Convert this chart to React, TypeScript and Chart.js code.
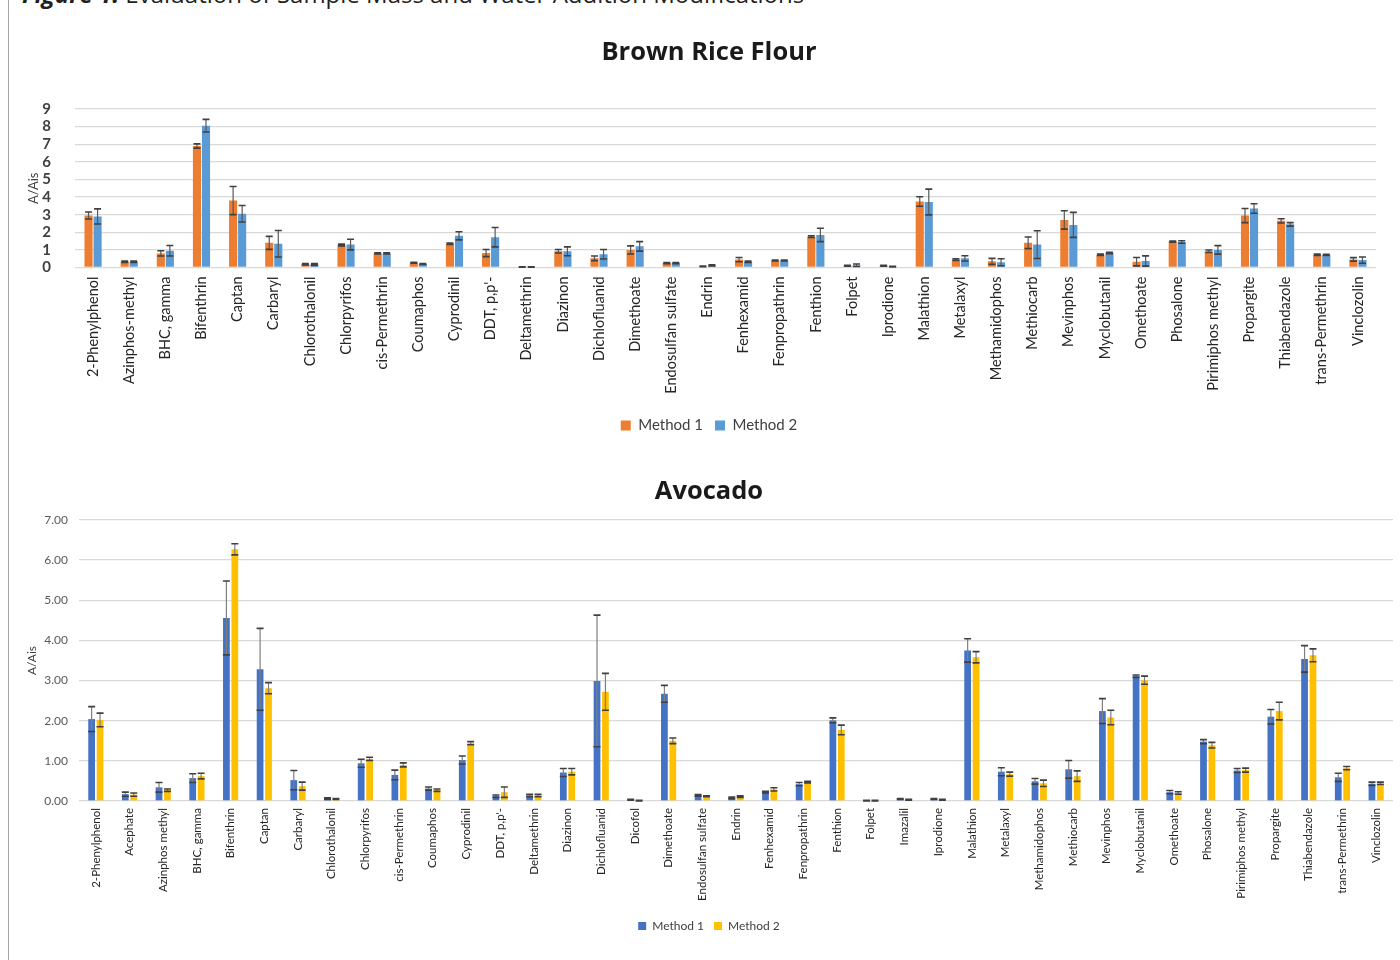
import React, { useEffect, useRef } from "react";
import { Chart, registerables } from "chart.js";

Chart.register(...registerables);

// ---------------- Brown Rice Flour ----------------
const riceCategories = [
  "2-Phenylphenol", "Azinphos-methyl", "BHC, gamma", "Bifenthrin", "Captan", "Carbaryl",
  "Chlorothalonil", "Chlorpyrifos", "cis-Permethrin", "Coumaphos", "Cyprodinil", "DDT, p,p'-",
  "Deltamethrin", "Diazinon", "Dichlofluanid", "Dimethoate", "Endosulfan sulfate", "Endrin",
  "Fenhexamid", "Fenpropathrin", "Fenthion", "Folpet", "Iprodione", "Malathion",
  "Metalaxyl", "Methamidophos", "Methiocarb", "Mevinphos", "Myclobutanil", "Omethoate",
  "Phosalone", "Pirimiphos methyl", "Propargite", "Thiabendazole", "trans-Permethrin", "Vinclozolin",
];
const riceMethod1 = [
  2.95, 0.33, 0.8, 6.9, 3.8, 1.4, 0.19, 1.28, 0.8, 0.27, 1.35, 0.82,
  0.03, 0.92, 0.52, 1.0, 0.25, 0.06, 0.45, 0.4, 1.75, 0.1, 0.1, 3.75,
  0.45, 0.35, 1.4, 2.7, 0.72, 0.33, 1.47, 0.92, 2.95, 2.65, 0.72, 0.46,
];
const riceMethod1Err = [
  0.2, 0.04, 0.15, 0.12, 0.8, 0.37, 0.04, 0.05, 0.03, 0.03, 0.04, 0.2,
  0.01, 0.1, 0.13, 0.23, 0.03, 0.02, 0.12, 0.03, 0.05, 0.03, 0.03, 0.27,
  0.05, 0.17, 0.33, 0.52, 0.04, 0.24, 0.03, 0.07, 0.4, 0.12, 0.04, 0.1,
];
const riceMethod2 = [
  2.9, 0.33, 0.95, 8.05, 3.05, 1.35, 0.17, 1.3, 0.8, 0.2, 1.8, 1.72,
  0.03, 0.92, 0.75, 1.2, 0.25, 0.12, 0.32, 0.4, 1.85, 0.13, 0.05, 3.72,
  0.52, 0.3, 1.3, 2.42, 0.82, 0.37, 1.45, 1.0, 3.35, 2.45, 0.72, 0.42,
];
const riceMethod2Err = [
  0.43, 0.04, 0.3, 0.36, 0.47, 0.75, 0.05, 0.3, 0.03, 0.03, 0.23, 0.55,
  0.01, 0.25, 0.27, 0.27, 0.03, 0.03, 0.04, 0.03, 0.38, 0.07, 0.02, 0.73,
  0.15, 0.2, 0.79, 0.71, 0.04, 0.29, 0.07, 0.24, 0.27, 0.1, 0.03, 0.18,
];

// ---------------- Avocado ----------------
const avoCategories = [
  "2-Phenylphenol", "Acephate", "Azinphos methyl", "BHC, gamma", "Bifenthrin", "Captan",
  "Carbaryl", "Chlorothalonil", "Chlorpyrifos", "cis-Permethrin", "Coumaphos", "Cyprodinil",
  "DDT, p,p'-", "Deltamethrin", "Diazinon", "Dichlofluanid", "Dicofol", "Dimethoate",
  "Endosulfan sulfate", "Endrin", "Fenhexamid", "Fenpropathrin", "Fenthion", "Folpet",
  "Imazalil", "Iprodione", "Malathion", "Metalaxyl", "Methamidophos", "Methiocarb",
  "Mevinphos", "Myclobutanil", "Omethoate", "Phosalone", "Pirimiphos methyl", "Propargite",
  "Thiabendazole", "trans-Permethrin", "Vinclozolin",
];
const avoMethod1 = [
  2.04, 0.17, 0.34, 0.57, 4.56, 3.28, 0.52, 0.06, 0.94, 0.65, 0.31, 1.02,
  0.12, 0.14, 0.71, 2.99, 0.03, 2.67, 0.14, 0.08, 0.22, 0.42, 2.01, 0.01,
  0.05, 0.05, 3.75, 0.73, 0.49, 0.79, 2.24, 3.11, 0.22, 1.48, 0.76, 2.1,
  3.54, 0.59, 0.43,
];
const avoMethod1Err = [
  0.31, 0.05, 0.12, 0.11, 0.92, 1.02, 0.24, 0.02, 0.1, 0.12, 0.04, 0.1,
  0.03, 0.03, 0.1, 1.64, 0.01, 0.21, 0.02, 0.02, 0.02, 0.04, 0.06, 0.01,
  0.01, 0.01, 0.29, 0.1, 0.07, 0.22, 0.31, 0.03, 0.04, 0.05, 0.05, 0.18,
  0.33, 0.1, 0.04,
];
const avoMethod2 = [
  2.02, 0.16, 0.27, 0.62, 6.27, 2.81, 0.37, 0.05, 1.05, 0.9, 0.27, 1.44,
  0.22, 0.14, 0.73, 2.72, 0.01, 1.5, 0.12, 0.11, 0.29, 0.47, 1.77, 0.01,
  0.03, 0.03, 3.58, 0.67, 0.44, 0.62, 2.08, 3.01, 0.2, 1.39, 0.77, 2.24,
  3.63, 0.82, 0.44,
];
const avoMethod2Err = [
  0.17, 0.04, 0.03, 0.07, 0.14, 0.14, 0.1, 0.01, 0.04, 0.05, 0.03, 0.04,
  0.13, 0.03, 0.08, 0.46, 0.01, 0.07, 0.01, 0.02, 0.04, 0.02, 0.12, 0.01,
  0.01, 0.01, 0.14, 0.05, 0.08, 0.13, 0.18, 0.1, 0.03, 0.07, 0.05, 0.22,
  0.16, 0.04, 0.03,
];

const seriesNames = ["Method 1", "Method 2"];
const figureCaptionBold = "Figure 1.";
const figureCaptionRest = " Evaluation of Sample Mass and Water Addition Modifications";

const FONT = "Lato, 'Open Sans', sans-serif";
const TITLE_FONT = "'Open Sans', sans-serif";

const errorBarPlugin = {
  id: "errorBars",
  afterDatasetsDraw(chart: any, _args: any, opts: any) {
    const ctx = chart.ctx;
    const yScale = chart.scales.y;
    ctx.save();
    chart.data.datasets.forEach((ds: any, i: number) => {
      const meta = chart.getDatasetMeta(i);
      const errs = opts.errors[i];
      meta.data.forEach((bar: any, j: number) => {
        const v = ds.data[j];
        const e = errs[j];
        const x = bar.x;
        const yt = yScale.getPixelForValue(v + e);
        const yb = yScale.getPixelForValue(Math.max(0, v - e));
        ctx.strokeStyle = opts.color;
        ctx.lineWidth = opts.width;
        ctx.beginPath();
        ctx.moveTo(x, yt);
        ctx.lineTo(x, yb);
        ctx.stroke();
        ctx.strokeStyle = opts.capColor;
        ctx.lineWidth = opts.capWidth;
        ctx.beginPath();
        ctx.moveTo(x - opts.cap, yt);
        ctx.lineTo(x + opts.cap, yt);
        ctx.moveTo(x - opts.cap, yb);
        ctx.lineTo(x + opts.cap, yb);
        ctx.stroke();
      });
    });
    ctx.restore();
  },
};

function ChartCanvas({ config, top, width, height }: any) {
  const ref = useRef<HTMLCanvasElement>(null);
  useEffect(() => {
    if (!ref.current) return;
    const chart = new Chart(ref.current, config);
    return () => chart.destroy();
  }, []);
  return (
    <canvas
      ref={ref}
      width={width}
      height={height}
      style={{ position: "absolute", left: 0, top, width, height }}
    />
  );
}

function makeConfig(p: any) {
  return {
    type: "bar",
    data: {
      labels: p.labels,
      datasets: [
        { label: seriesNames[0], data: p.m1, backgroundColor: p.colors[0], barPercentage: p.barPct, categoryPercentage: p.catPct },
        { label: seriesNames[1], data: p.m2, backgroundColor: p.colors[1], barPercentage: p.barPct, categoryPercentage: p.catPct },
      ],
    },
    plugins: [errorBarPlugin],
    options: {
      responsive: false,
      animation: false,
      layout: { padding: { left: 18, right: 0, top: 0, bottom: 0 } },
      plugins: {
        title: {
          display: true,
          text: p.title,
          font: { family: TITLE_FONT, size: 25.5, weight: "bold" },
          color: "#1a1a1a",
          padding: { top: p.titleTop, bottom: p.titleBottom },
        },
        legend: {
          display: true,
          position: "bottom",
          labels: {
            boxWidth: p.legendBox,
            boxHeight: p.legendBox,
            padding: p.legendPad,
            font: { family: FONT, size: p.legendFont },
            color: "#404040",
          },
        },
        tooltip: { enabled: false },
        errorBars: {
          errors: [p.e1, p.e2],
          color: p.errColor,
          capColor: p.capColor,
          width: 1.2,
          capWidth: 1.6,
          cap: 3.5,
        },
      },
      scales: {
        x: {
          grid: { display: false, drawTicks: false },
          border: { display: false },
          ticks: {
            autoSkip: false,
            minRotation: 90,
            maxRotation: 90,
            padding: p.xPad,
            font: { family: FONT, size: p.xFont },
            color: "#262626",
          },
          afterFit: (s: any) => { s.height = p.xHeight; },
        },
        y: {
          min: 0,
          max: p.yMax,
          grid: { color: "#d9d9d9", lineWidth: 1.3, drawTicks: false },
          border: { display: false },
          ticks: {
            stepSize: 1,
            autoSkip: false,
            padding: p.yPad,
            font: { family: FONT, size: p.yFont, weight: p.yWeight },
            color: p.yColor,
            callback: p.yFmt,
          },
          title: {
            display: true,
            text: "A/Ais",
            font: { family: FONT, size: p.yTitleFont },
            color: "#404040",
            padding: { top: p.yTitleOffset, bottom: 0 },
          },
          afterFit: (s: any) => { s.width = p.yWidth; },
        },
        yRight: {
          position: "right",
          display: true,
          grid: { display: false, drawTicks: false },
          border: { display: false },
          ticks: { display: false },
          afterFit: (s: any) => { s.width = p.rightWidth; },
        },
      },
    },
  };
}

const riceConfig = makeConfig({
  title: "Brown Rice Flour",
  labels: riceCategories,
  m1: riceMethod1,
  m2: riceMethod2,
  e1: riceMethod1Err,
  e2: riceMethod2Err,
  colors: ["#ED7D31", "#5B9BD5"],
  barPct: 0.9,
  catPct: 0.5,
  titleTop: 37.7,
  titleBottom: 40.7,
  legendBox: 10,
  legendPad: 12,
  legendFont: 15,
  errColor: "#595959",
  capColor: "#404040",
  xPad: 9,
  xFont: 14.5,
  xHeight: 138.5,
  yMax: 9,
  yPad: 24,
  yFont: 15,
  yWeight: "bold",
  yColor: "#404040",
  yFmt: (v: any) => String(v),
  yTitleFont: 13,
  yTitleOffset: 8,
  yWidth: 57,
  rightWidth: 24,
});

const avoConfig = makeConfig({
  title: "Avocado",
  labels: avoCategories,
  m1: avoMethod1,
  m2: avoMethod2,
  e1: avoMethod1Err,
  e2: avoMethod2Err,
  colors: ["#4472C4", "#FFC000"],
  barPct: 0.8,
  catPct: 0.5,
  titleTop: 31.7,
  titleBottom: 12.7,
  legendBox: 8,
  legendPad: 10,
  legendFont: 12,
  errColor: "#7f7f7f",
  capColor: "#404040",
  xPad: 7,
  xFont: 11.5,
  xHeight: 109,
  yMax: 7,
  yPad: 11,
  yFont: 12,
  yWeight: "normal",
  yColor: "#595959",
  yFmt: (v: any) => Number(v).toFixed(2),
  yTitleFont: 12,
  yTitleOffset: 7,
  yWidth: 61,
  rightWidth: 7,
});

export default function App() {
  return (
    <div
      style={{
        position: "absolute",
        left: 0,
        top: 0,
        width: 1400,
        height: 960,
        overflow: "hidden",
        background: "#ffffff",
      }}
    >
      <div
        style={{
          position: "absolute",
          left: 22,
          top: -18,
          fontFamily: TITLE_FONT,
          fontSize: 24,
          lineHeight: "24px",
          color: "#231f20",
          whiteSpace: "nowrap",
        }}
      >
        <span style={{ fontWeight: "bold", fontStyle: "italic" }}>{figureCaptionBold}</span>
        <span>{figureCaptionRest}</span>
      </div>
      <div style={{ position: "absolute", left: 8, top: 0, width: 1, height: 960, background: "#a6a6a6" }} />
      <ChartCanvas config={riceConfig} top={0} width={1400} height={443} />
      <ChartCanvas config={avoConfig} top={445} width={1400} height={497} />
    </div>
  );
}
